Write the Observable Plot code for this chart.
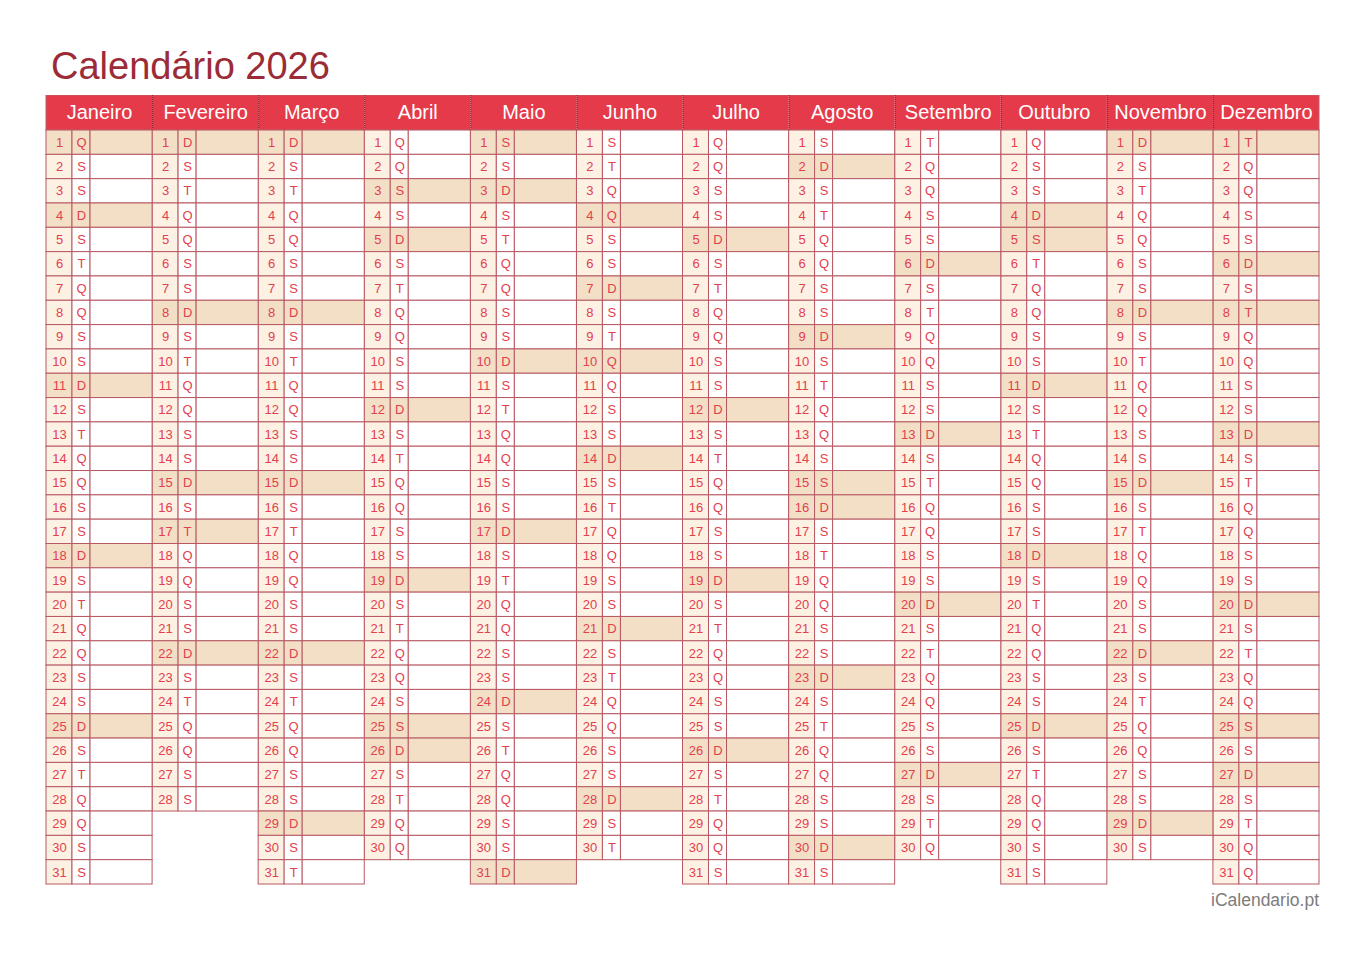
<!DOCTYPE html>
<html>
<head>
<meta charset="utf-8">
<script src="https://cdn.jsdelivr.net/npm/d3@7"></script>
<script src="https://cdn.jsdelivr.net/npm/@observablehq/plot@0.6"></script>
<style>
  html, body { margin: 0; padding: 0; background: #fff; }
  body { width: 1366px; height: 965px; overflow: hidden; font-family: "Liberation Sans", Arial, Helvetica, sans-serif; }
  #title { height: 95px; position: relative; }
  #title h1 { position: absolute; left: 51px; top: 47px; margin: 0; font-size: 38px; font-weight: normal; color: #9b2c37; line-height: 1; }
  #footer { position: relative; height: 70px; }
  #footer span { position: absolute; right: 47px; top: -5px; font-size: 17.5px; color: #7c7c7c; }
  #chart svg { display: block; }
</style>
</head>
<body>
<div id="title"><h1>Calendário 2026</h1></div>
<div id="chart"></div>
<div id="footer"><span>iCalendario.pt</span></div>
<script>
const months = ["Janeiro","Fevereiro","Março","Abril","Maio","Junho","Julho","Agosto","Setembro","Outubro","Novembro","Dezembro"];
const monthLengths = [31,28,31,30,31,30,31,31,30,31,30,31];
const firstWeekday = [4,0,0,3,5,1,3,6,2,4,0,2]; // 0 = Domingo
const weekdayLetters = ["D","S","T","Q","Q","S","S"];
const holidays = [[1,1],[2,17],[4,3],[4,5],[4,25],[5,1],[6,4],[6,10],[8,15],[10,5],[11,1],[12,1],[12,8],[12,25]];

const days = [];
months.forEach((name, m) => {
  for (let d = 1; d <= monthLengths[m]; d++) {
    const wd = (firstWeekday[m] + d - 1) % 7;
    const hol = holidays.some(h => h[0] === m + 1 && h[1] === d);
    days.push({m, d, letter: weekdayLetters[wd], hi: wd === 0 || hol});
  }
});
const monthRows = months.map((name, m) => ({m, name}));

const NUM = 0.245, LET = 0.415;
const HEADER = 1.44;
const hiFill = "#f2dfc6", numFill = "#fdf1e3", stroke = "#b75862", red = "#e3404f";
const font = "'Liberation Sans', Arial, Helvetica, sans-serif";

const chart = Plot.plot({
  width: 1366,
  height: 800,
  margin: 0,
  style: {fontFamily: font, background: "transparent"},
  x: {type: "linear", domain: [0, 12], range: [46, 1319], axis: null},
  y: {type: "linear", domain: [-HEADER, 31], range: [0, 789], axis: null},
  marks: [
    // header
    Plot.rect(monthRows, {x1: d => d.m, x2: d => d.m + 1, y1: -HEADER, y2: 0, fill: "#e43a4a"}),
    Plot.rect([0], {x1: 0, x2: 12, y1: -HEADER, y2: 0, fill: "none", stroke: "#c0606c", strokeWidth: 1}),
    Plot.ruleX(d3.range(1, 12), {y1: -HEADER, y2: 0, stroke: "#7e2530", strokeWidth: 1, strokeDasharray: "1,1"}),
    Plot.text(monthRows, {x: d => d.m + 0.5, y: -HEADER / 2, text: "name", fill: "white", fontSize: 20, dy: 0}),
    // cells
    Plot.rect(days, {x1: d => d.m, x2: d => d.m + NUM, y1: d => d.d - 1, y2: d => d.d,
      fill: d => d.hi ? hiFill : numFill, stroke, strokeWidth: 1}),
    Plot.rect(days, {x1: d => d.m + NUM, x2: d => d.m + LET, y1: d => d.d - 1, y2: d => d.d,
      fill: d => d.hi ? hiFill : "white", stroke, strokeWidth: 1}),
    Plot.rect(days, {x1: d => d.m + LET, x2: d => d.m + 1, y1: d => d.d - 1, y2: d => d.d,
      fill: d => d.hi ? hiFill : "white", stroke, strokeWidth: 1}),
    Plot.text(days, {x: d => d.m + NUM / 2, y: d => d.d - 0.5, text: d => String(d.d), fill: red, fontSize: 13}),
    Plot.text(days, {x: d => d.m + (NUM + LET) / 2, y: d => d.d - 0.5, text: "letter", fill: red, fontSize: 13})
  ]
});
document.getElementById("chart").appendChild(chart);
</script>
</body>
</html>
